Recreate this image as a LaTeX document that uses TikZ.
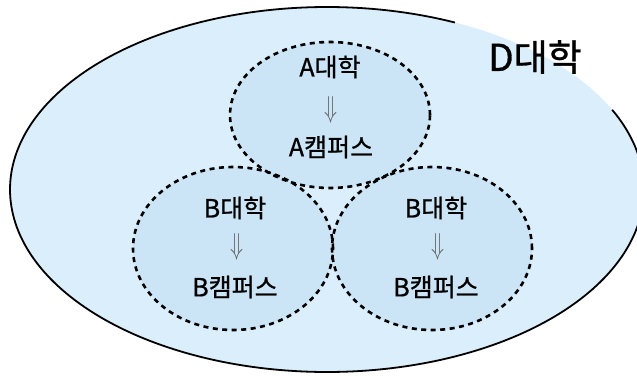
\documentclass[tikz,border=0pt]{standalone}
\usepackage{graphicx}
\usepackage{fontspec}
\setmainfont{Noto Sans CJK KR}[FakeBold=0.8]
\usetikzlibrary{shapes.geometric}
\definecolor{outerblue}{RGB}{219,238,251}
\definecolor{innerblue}{RGB}{203,229,247}
\definecolor{arrowgray}{RGB}{100,100,100}
\newcommand{\dnarr}{\resizebox{13pt}{21pt}{$\Downarrow$}}
\begin{document}
\begin{tikzpicture}[x=1pt,y=-1pt,
  campus/.style={ellipse, fill=innerblue, inner sep=0pt},
  campusline/.style={ellipse, draw=black, line width=2.6pt, dash pattern=on 5pt off 4.5pt, inner sep=0pt},
  lbl/.style={font=\fontsize{25}{25}\selectfont, text=black, inner sep=0pt},
  arr/.style={text=arrowgray, inner sep=0pt}]
\useasboundingbox (0,0) rectangle (637,375);
\begin{scope}
\clip (0,0) rectangle (637,375);
% outer university D
\node[ellipse, fill=outerblue, minimum width=634pt, minimum height=365pt, inner sep=0pt] (D) at (327,189.5) {};
\draw[line width=1.8pt, black] plot[domain=-25.9:293.8, samples=240, smooth] ({327+317*cos(\x)}, {189.5+182.5*sin(\x)});
\end{scope}
% campus fills
\node[campus, minimum width=200pt, minimum height=146pt] (A) at (330,115) {};
\node[campus, minimum width=200pt, minimum height=163pt] (BL) at (233,248.5) {};
\node[campus, minimum width=200pt, minimum height=163pt] (BR) at (432,248.5) {};
% dashed outlines
\node[campusline, minimum width=200pt, minimum height=146pt] (Aline) at (A) {};
\node[campusline, minimum width=200pt, minimum height=163pt] (BLline) at (BL) {};
\node[campusline, minimum width=200pt, minimum height=163pt] (BRline) at (BR) {};
% labels
\node[font=\fontsize{37}{37}\selectfont, inner sep=0pt] (Dl) at (535,57) {D대학};
\node[lbl] (a1) at (330,67) {A대학};
\node[arr] (a2) at (331,110) {\dnarr};
\node[lbl] (a3) at (331,147) {A캠퍼스};
\node[lbl] (b1) at (235,208) {B대학};
\node[arr] (b2) at (237,247) {\dnarr};
\node[lbl] (b3) at (235,287) {B캠퍼스};
\node[lbl] (c1) at (436,208) {B대학};
\node[arr] (c2) at (438,247) {\dnarr};
\node[lbl] (c3) at (436,287) {B캠퍼스};
\end{tikzpicture}
\end{document}
